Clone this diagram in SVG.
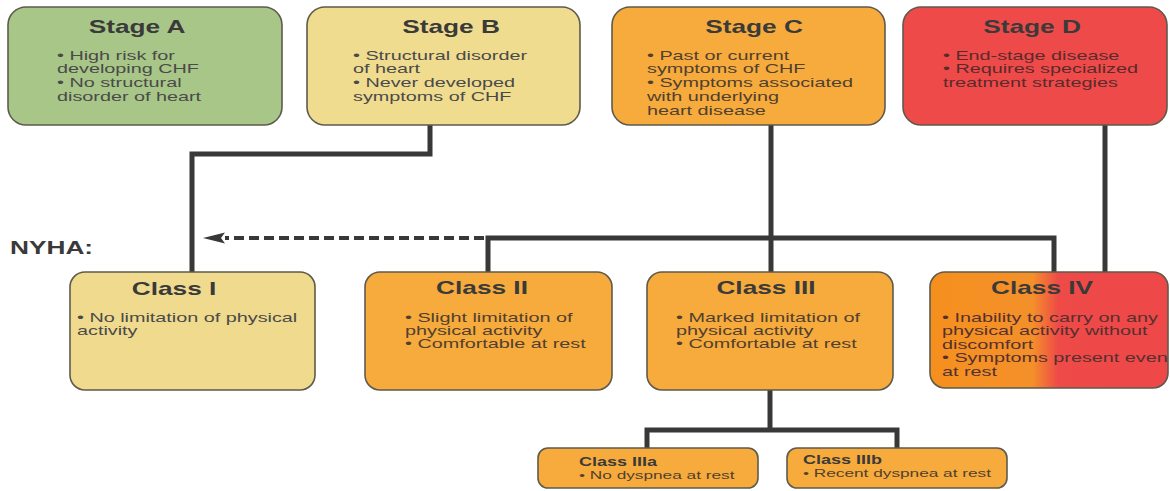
<svg xmlns="http://www.w3.org/2000/svg" width="1170" height="491" viewBox="0 0 1170 491">
<style>
.box{stroke:#5e5a4c;stroke-width:1.6}
.t{font-family:"Liberation Sans",Arial,sans-serif;font-weight:bold;font-size:17.5px;fill:#3a3a3a;text-anchor:middle}
.b{font-family:"Liberation Sans",Arial,sans-serif;font-size:13.2px;fill:#4a4a4a}
.st{font-family:"Liberation Sans",Arial,sans-serif;font-weight:bold;font-size:12px;fill:#3a3a3a}
.sb{font-family:"Liberation Sans",Arial,sans-serif;font-size:11.5px;fill:#4a4a4a}
.ln{stroke:#383838;stroke-width:5;fill:none}
.dash{stroke:#383838;stroke-width:4;fill:none;stroke-dasharray:10 5}
</style>
<defs>
<linearGradient id="g4" x1="930" y1="0" x2="1168" y2="0" gradientUnits="userSpaceOnUse">
<stop offset="0" stop-color="#f5901e"/>
<stop offset="0.43" stop-color="#f4902a"/>
<stop offset="0.54" stop-color="#ee4a48"/>
<stop offset="1" stop-color="#ee4848"/>
</linearGradient>
<marker id="arr" viewBox="0 0 22 14" refX="0" refY="7" markerWidth="22" markerHeight="14" markerUnits="userSpaceOnUse" orient="auto">
<path d="M0,1.5 L22,7 L0,12.5 L4,7 z" fill="#383838"/>
</marker>
</defs>
<rect width="1170" height="491" fill="#ffffff"/>
<g id="connectors">
<polyline class="ln" points="430,125 430,154 192,154 192,272"/>
<line class="ln" x1="771" y1="125" x2="771" y2="238"/>
<line class="ln" x1="1105" y1="125" x2="1105" y2="272"/>
<polyline class="ln" points="488,272 488,238 1054,238 1054,272"/>
<line class="ln" x1="771" y1="238" x2="771" y2="272"/>
<line class="dash" x1="484" y1="238" x2="225" y2="238" marker-end="url(#arr)"/>
<polyline class="ln" points="770,390 770,430"/>
<polyline class="ln" points="647,448 647,430 897,430 897,448"/>
</g>
<text class="t" transform="translate(10,254) scale(1.5,1)" style="text-anchor:start">NYHA:</text>
<g id="stageA">
<rect class="box" x="8" y="7" width="274" height="118" rx="18" fill="#a8c688"/>
<text class="t" transform="translate(137,33) scale(1.5,1)">Stage A</text>
<text class="b" transform="translate(57,59.5) scale(1.5,1)"><tspan x="0" y="0">• High risk for</tspan><tspan x="0" dy="13.8">developing CHF</tspan><tspan x="0" dy="13.8">• No structural</tspan><tspan x="0" dy="13.8">disorder of heart</tspan></text>
</g>
<g id="stageB">
<rect class="box" x="307" y="7" width="273" height="118" rx="18" fill="#f0dc8f"/>
<text class="t" transform="translate(451,33) scale(1.5,1)">Stage B</text>
<text class="b" transform="translate(353,59.5) scale(1.5,1)"><tspan x="0" y="0">• Structural disorder</tspan><tspan x="0" dy="13.8">of heart</tspan><tspan x="0" dy="13.8">• Never developed</tspan><tspan x="0" dy="13.8">symptoms of CHF</tspan></text>
</g>
<g id="stageC">
<rect class="box" x="612" y="7" width="273" height="118" rx="18" fill="#f7ab3c"/>
<text class="t" transform="translate(754,33) scale(1.5,1)">Stage C</text>
<text class="b" transform="translate(647,59.5) scale(1.5,1)" style="fill:#4f4030"><tspan x="0" y="0">• Past or current</tspan><tspan x="0" dy="13.8">symptoms of CHF</tspan><tspan x="0" dy="13.8">• Symptoms associated</tspan><tspan x="0" dy="13.8">with underlying</tspan><tspan x="0" dy="13.8">heart disease</tspan></text>
</g>
<g id="stageD">
<rect class="box" x="903" y="7" width="264" height="118" rx="18" fill="#ee4a4a"/>
<text class="t" transform="translate(1032,33) scale(1.5,1)">Stage D</text>
<text class="b" transform="translate(943,59.5) scale(1.5,1)" style="fill:#5a2a2a"><tspan x="0" y="0">• End-stage disease</tspan><tspan x="0" dy="13.8">• Requires specialized</tspan><tspan x="0" dy="13.8">treatment strategies</tspan></text>
</g>
<g id="classI">
<rect class="box" x="70" y="272" width="245" height="118" rx="15" fill="#efda8d"/>
<text class="t" transform="translate(174,295) scale(1.5,1)">Class I</text>
<text class="b" transform="translate(77,321.5) scale(1.5,1)"><tspan x="0" y="0">• No limitation of physical</tspan><tspan x="0" dy="13.5">activity</tspan></text>
</g>
<g id="classII">
<rect class="box" x="365" y="272" width="247" height="118" rx="15" fill="#f7ab3c"/>
<text class="t" transform="translate(482,294) scale(1.5,1)">Class II</text>
<text class="b" transform="translate(405,321.5) scale(1.5,1)" style="fill:#4f4030"><tspan x="0" y="0">• Slight limitation of</tspan><tspan x="0" dy="13.5">physical activity</tspan><tspan x="0" dy="13.5">• Comfortable at rest</tspan></text>
</g>
<g id="classIII">
<rect class="box" x="647" y="272" width="246" height="118" rx="15" fill="#f7ab3c"/>
<text class="t" transform="translate(766,294) scale(1.5,1)">Class III</text>
<text class="b" transform="translate(676,321.5) scale(1.5,1)" style="fill:#4f4030"><tspan x="0" y="0">• Marked limitation of</tspan><tspan x="0" dy="13.5">physical activity</tspan><tspan x="0" dy="13.5">• Comfortable at rest</tspan></text>
</g>
<g id="classIV">
<rect class="box" x="930" y="272" width="238" height="116" rx="15" fill="url(#g4)"/>
<text class="t" transform="translate(1042,294) scale(1.5,1)">Class IV</text>
<text class="b" transform="translate(942,321.5) scale(1.5,1)" style="fill:#553030"><tspan x="0" y="0">• Inability to carry on any</tspan><tspan x="0" dy="13.6">physical activity without</tspan><tspan x="0" dy="13.6">discomfort</tspan><tspan x="0" dy="13.6">• Symptoms present even</tspan><tspan x="0" dy="13.6">at rest</tspan></text>
</g>
<g id="classIIIa">
<rect class="box" x="538" y="448" width="220" height="40" rx="10" fill="#f7ab3c"/>
<text class="st" transform="translate(579,466) scale(1.5,1)">Class IIIa</text>
<text class="sb" transform="translate(579,479) scale(1.5,1)" style="fill:#4f4030">• No dyspnea at rest</text>
</g>
<g id="classIIIb">
<rect class="box" x="787" y="448" width="220" height="40" rx="10" fill="#f7ab3c"/>
<text class="st" transform="translate(803,464) scale(1.5,1)">Class IIIb</text>
<text class="sb" transform="translate(803,477) scale(1.5,1)" style="fill:#4f4030">• Recent dyspnea at rest</text>
</g>
</svg>
